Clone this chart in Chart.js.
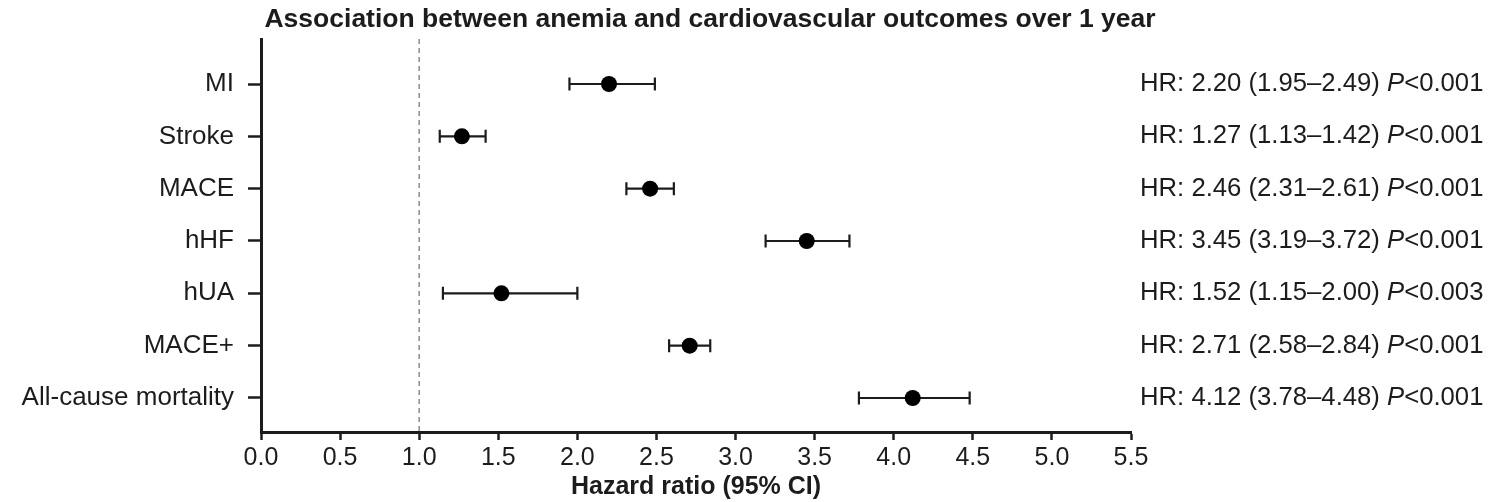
<!DOCTYPE html>
<html>
<head>
<meta charset="utf-8">
<script src="https://cdn.jsdelivr.net/npm/chart.js@4/dist/chart.umd.min.js"></script>
<style>
html,body{margin:0;padding:0;background:#fff;}
#wrap{width:1499px;height:502px;}
</style>
</head>
<body>
<div id="wrap"><canvas id="c" width="1499" height="502"></canvas></div>
<script>
const categories = ['MI','Stroke','MACE','hHF','hUA','MACE+','All-cause mortality'];
const hrValues   = [2.20, 1.27, 2.46, 3.45, 1.52, 2.71, 4.12];
const ciLow      = [1.95, 1.13, 2.31, 3.19, 1.15, 2.58, 3.78];
const ciHigh     = [2.49, 1.42, 2.61, 3.72, 2.00, 2.84, 4.48];
const pLabels    = ['<0.001','<0.001','<0.001','<0.001','<0.003','<0.001','<0.001'];
const xTicks     = [0,0.5,1,1.5,2,2.5,3,3.5,4,4.5,5,5.5];
const refLine    = 1.0;
const titleText  = 'Association between anemia and cardiovascular outcomes over 1 year';
const xTitle     = 'Hazard ratio (95% CI)';

const FONT = '"Liberation Sans", Arial, Helvetica, sans-serif';
const INK = '#1c1c1c';

const points = hrValues.map((v,i)=>({x:v, y:i+1}));

const forestPlugin = {
  id:'forest',
  beforeDatasetsDraw(chart){
    const {ctx, chartArea, scales:{x,y}} = chart;
    ctx.save();
    const rx = x.getPixelForValue(refLine);
    ctx.strokeStyle = '#8a8a8a';
    ctx.lineWidth = 1.5;
    ctx.setLineDash([5,4]);
    ctx.beginPath();
    ctx.moveTo(rx, chartArea.top);
    ctx.lineTo(rx, chartArea.bottom);
    ctx.stroke();
    ctx.setLineDash([]);
    ctx.strokeStyle = INK;
    ctx.lineWidth = 2.2;
    for(let i=0;i<categories.length;i++){
      const py = y.getPixelForValue(i+1);
      const x1 = x.getPixelForValue(ciLow[i]);
      const x2 = x.getPixelForValue(ciHigh[i]);
      ctx.beginPath();
      ctx.moveTo(x1, py); ctx.lineTo(x2, py);
      ctx.moveTo(x1, py-6.5); ctx.lineTo(x1, py+6.5);
      ctx.moveTo(x2, py-6.5); ctx.lineTo(x2, py+6.5);
      ctx.stroke();
    }
    ctx.restore();
  },
  afterDraw(chart){
    const {ctx, chartArea, scales:{y}} = chart;
    ctx.save();
    ctx.fillStyle = INK;
    ctx.textBaseline = 'middle';
    ctx.font = 'bold 26.5px ' + FONT;
    ctx.textAlign = 'center';
    ctx.fillText(titleText, 710, 20);
    ctx.textAlign = 'left';
    const fs = 25.7;
    for(let i=0;i<categories.length;i++){
      const py = y.getPixelForValue(i+1);
      let tx = chartArea.right + 9;
      const part1 = 'HR: ' + hrValues[i].toFixed(2) + ' (' + ciLow[i].toFixed(2) + '\u2013' + ciHigh[i].toFixed(2) + ') ';
      ctx.font = fs + 'px ' + FONT;
      ctx.fillText(part1, tx, py);
      tx += ctx.measureText(part1).width;
      ctx.font = 'italic ' + fs + 'px ' + FONT;
      ctx.fillText('P', tx, py);
      tx += ctx.measureText('P').width;
      ctx.font = fs + 'px ' + FONT;
      ctx.fillText(pLabels[i], tx, py);
    }
    ctx.restore();
  }
};

new Chart(document.getElementById('c'), {
  type:'scatter',
  data:{
    datasets:[{
      data: points,
      pointRadius: 8,
      pointHoverRadius: 8,
      pointBackgroundColor: '#000',
      pointBorderColor: '#000',
      pointBorderWidth: 0,
      showLine:false
    }]
  },
  options:{
    responsive:false,
    animation:false,
    events:[],
    layout:{padding:{left:0, right:368, top:39, bottom:0}},
    plugins:{legend:{display:false}, tooltip:{enabled:false}, title:{display:false}},
    scales:{
      x:{
        type:'linear', min:0, max:5.5,
        afterBuildTicks(axis){ axis.ticks = xTicks.map(v=>({value:v})); },
        afterFit(axis){ axis.height = 70; },
        grid:{drawOnChartArea:false, drawTicks:true, tickLength:8, tickColor:INK, tickWidth:2.5},
        border:{display:true, color:INK, width:3},
        ticks:{color:INK, font:{family:FONT, size:25}, padding:3,
          callback:(v)=>Number(v).toFixed(1), maxRotation:0, autoSkip:false},
        title:{display:true, text:xTitle, color:INK, font:{family:FONT, size:25, weight:'bold'}, padding:{top:0,bottom:0}}
      },
      y:{
        type:'linear', min:0.14, max:7.65, reverse:true,
        afterBuildTicks(axis){ axis.ticks = categories.map((c,i)=>({value:i+1})); },
        afterFit(axis){ axis.width = 261; },
        grid:{drawOnChartArea:false, drawTicks:true, tickLength:13, tickColor:INK, tickWidth:2.5},
        border:{display:true, color:INK, width:3},
        ticks:{color:INK, font:{family:FONT, size:26}, padding:14, autoSkip:false,
          callback:(v)=>categories[Math.round(v)-1] || ''}
      }
    }
  },
  plugins:[forestPlugin]
});
</script>
</body>
</html>
